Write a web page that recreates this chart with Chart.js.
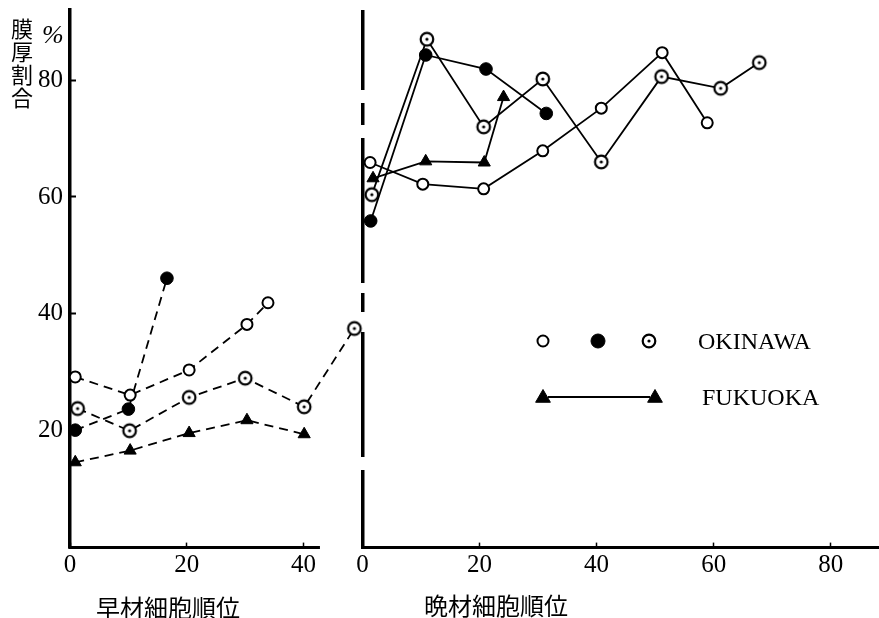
<!DOCTYPE html>
<html>
<head>
<meta charset="utf-8">
<script src="https://cdn.jsdelivr.net/npm/chart.js@4.4.1/dist/chart.umd.min.js"></script>
<style>
  html, body { margin: 0; padding: 0; background: #fff; }
  #wrap { position: relative; width: 879px; height: 618px; overflow: hidden; }
  canvas { position: absolute; top: 0; }
  #earlyChart { left: 0; }
  #lateChart { left: 340px; }
  .txt { position: absolute; color: #000; white-space: nowrap; }
  .jp { font-family: 'Noto Sans CJK JP', sans-serif; }
  .en { font-family: 'Liberation Serif', serif; }
</style>
</head>
<body>
<div id="wrap">
  <canvas id="earlyChart" width="366" height="618"></canvas>
  <canvas id="lateChart" width="539" height="618"></canvas>
  <div class="txt jp" style="left:11px;top:16px;width:22px;font-size:22px;line-height:23px;text-align:center;">膜<br>厚<br>割<br>合</div>
  <div class="txt en" style="left:42px;top:20px;font-size:26px;line-height:30px;font-style:italic;">%</div>
  <div class="txt jp" style="left:96px;top:592px;font-size:24px;line-height:30px;">早材細胞順位</div>
  <div class="txt jp" style="left:424px;top:590px;font-size:24px;line-height:30px;">晩材細胞順位</div>
  <div class="txt en" style="left:698px;top:326px;font-size:24px;line-height:30px;">OKINAWA</div>
  <div class="txt en" style="left:702px;top:382px;font-size:24px;line-height:30px;">FUKUOKA</div>
</div>
<script>
// 早材 (left panel): [cell order, %]
const earlyOpen   = [[0.9, 29.2], [10.3, 26.1], [20.4, 30.4], [30.3, 38.2], [33.9, 41.9]];
const earlyFilled = [[0.9, 20.1], [10.0, 23.7], [16.6, 46.1]];
const earlyDot    = [[1.3, 23.8], [10.2, 20.0], [20.4, 25.7], [30.0, 29.0], [40.1, 24.1], [48.7, 37.5]];
const earlyTri    = [[0.9, 14.6], [10.3, 16.6], [20.4, 19.6], [30.3, 21.8], [40.1, 19.4]];

// 晩材 (right panel)
const lateOpen   = [[1.3, 65.9], [10.3, 62.2], [20.7, 61.4], [30.8, 67.9], [40.8, 75.2], [51.2, 84.7], [58.9, 72.7]];
const lateFilled = [[1.4, 55.9], [10.8, 84.3], [21.1, 81.9], [31.4, 74.3]];
const lateDot    = [[1.6, 60.4], [11.0, 87.0], [20.7, 72.0], [30.8, 80.2], [40.8, 66.0], [51.1, 80.6], [61.2, 78.6], [67.8, 83.0]];
const lateTri    = [[1.8, 63.2], [10.8, 66.1], [20.8, 65.9], [24.1, 77.1]];

const yTicks = [20, 40, 60, 80];
const earlyXTicks = [0, 20, 40];
const lateXTicks = [0, 20, 40, 60, 80];

const Y_MAX = 92;
const EARLY_X_MAX = 50;
const EARLY_AXIS_END = 42.8;
const LATE_X_MAX = 88.25;
const LATE_AXIS_DASH = [80, 13, 22, 13, 145, 10, 19, 20, 125, 13, 120];

const SERIF = { family: "'Liberation Serif', 'Times New Roman', serif", size: 25 };
Chart.defaults.color = '#000';

// circle with centre dot (◎)
function makeDotCircle(r) {
  const c = document.createElement('canvas');
  c.width = c.height = 2 * r + 6;
  const g = c.getContext('2d');
  const m = c.width / 2;
  g.beginPath(); g.arc(m, m, r, 0, Math.PI * 2);
  g.fillStyle = '#fff'; g.fill();
  g.lineWidth = 2.2; g.strokeStyle = '#000'; g.stroke();
  g.beginPath(); g.arc(m, m, 1.6, 0, Math.PI * 2);
  g.fillStyle = '#000'; g.fill();
  return c;
}
const dotCircle = makeDotCircle(6.3);

const toXY = arr => arr.map(([x, y]) => ({ x, y }));

function series(data, kind, dashed) {
  const base = {
    data: toXY(data),
    borderColor: '#000', borderWidth: 1.8,
    borderDash: dashed ? [9, 6] : [],
    tension: 0, clip: false,
    pointBorderColor: '#000'
  };
  if (kind === 'open') return { ...base, pointStyle: 'circle', pointRadius: 5.5, pointBorderWidth: 2, pointBackgroundColor: '#fff' };
  if (kind === 'filled') return { ...base, pointStyle: 'circle', pointRadius: 6.3, pointBorderWidth: 1, pointBackgroundColor: '#000' };
  if (kind === 'dot') return { ...base, pointStyle: dotCircle, pointRadius: 7, pointBorderWidth: 0 };
  return { ...base, pointStyle: 'triangle', pointRadius: 7, pointBorderWidth: 1, pointBackgroundColor: '#000' };
}

const setTicks = list => scale => { scale.ticks = list.map(v => ({ value: v })); };
// keep chart area where layout.padding puts it
const fixX = s => { s.height = 40; s.paddingLeft = 0; s.paddingRight = 0; };
const fixY = s => { s.width = 70; s.paddingTop = 0; s.paddingBottom = 0; };

// left x axis only runs to ~42.8 although the scale goes on to 50
const xAxisSegment = {
  id: 'xAxisSegment',
  beforeDatasetsDraw(chart) {
    const { ctx, scales: { x, y } } = chart;
    const py = y.getPixelForValue(0);
    ctx.save();
    ctx.strokeStyle = '#000';
    ctx.lineWidth = 3;
    ctx.beginPath();
    ctx.moveTo(x.getPixelForValue(0) - 1.5, py);
    ctx.lineTo(x.getPixelForValue(EARLY_AXIS_END), py);
    ctx.stroke();
    ctx.restore();
  }
};

const legendMarks = {
  id: 'legendMarks',
  afterDraw(chart) {
    const ctx = chart.ctx;
    const mark = (style, radius, x, y, fill, bw) => {
      ctx.save();
      ctx.fillStyle = fill; ctx.strokeStyle = '#000'; ctx.lineWidth = bw;
      Chart.helpers.drawPoint(ctx, { pointStyle: style, radius, borderWidth: bw, rotation: 0 }, x, y);
      ctx.restore();
    };
    mark('circle', 5.5, 203, 341, '#fff', 2);
    mark('circle', 7, 258, 341, '#000', 1);
    mark(dotCircle, 7, 309, 341, '#fff', 0);
    ctx.save();
    ctx.strokeStyle = '#000'; ctx.lineWidth = 2;
    ctx.beginPath(); ctx.moveTo(208, 397); ctx.lineTo(310, 397); ctx.stroke();
    ctx.restore();
    mark('triangle', 8.5, 203, 398, '#000', 1);
    mark('triangle', 8.5, 315, 398, '#000', 1);
  }
};

const commonOpts = {
  responsive: false,
  animation: false,
  events: [],
  plugins: { legend: { display: false }, tooltip: { enabled: false } }
};

new Chart(document.getElementById('earlyChart'), {
  type: 'line',
  data: {
    datasets: [
      series(earlyOpen, 'open', true),
      series(earlyFilled, 'filled', true),
      series(earlyDot, 'dot', true),
      series(earlyTri, 'tri', true)
    ]
  },
  options: {
    ...commonOpts,
    layout: { autoPadding: false, padding: { left: 0, top: 10, right: 4, bottom: 30.4 } },
    scales: {
      x: {
        type: 'linear', min: 0, max: EARLY_X_MAX,
        afterBuildTicks: setTicks(earlyXTicks),
        afterFit: fixX,
        border: { display: false },
        grid: { drawOnChartArea: false, drawTicks: true, tickLength: -5, tickColor: '#000', tickWidth: 1.5 },
        ticks: { font: SERIF, padding: 8, maxRotation: 0, autoSkip: false }
      },
      y: {
        type: 'linear', min: 0, max: Y_MAX,
        afterBuildTicks: setTicks([0, ...yTicks]),
        afterFit: fixY,
        border: { display: true, width: 3.5, color: '#000' },
        grid: { drawOnChartArea: false, drawTicks: true, tickLength: -6, tickColor: '#000', tickWidth: 2 },
        ticks: { font: SERIF, padding: 13, callback: v => yTicks.includes(v) ? v : '' }
      }
    }
  },
  plugins: [xAxisSegment]
});

const isZero = c => c.tick && c.tick.value === 0;

new Chart(document.getElementById('lateChart'), {
  type: 'line',
  data: {
    datasets: [
      series(lateOpen, 'open', false),
      series(lateFilled, 'filled', false),
      series(lateDot, 'dot', false),
      series(lateTri, 'tri', false)
    ]
  },
  options: {
    ...commonOpts,
    layout: { autoPadding: false, padding: { left: 22.5, top: 10, right: 0, bottom: 30.4 } },
    scales: {
      x: {
        type: 'linear', min: 0, max: LATE_X_MAX,
        afterBuildTicks: setTicks(lateXTicks),
        afterFit: fixX,
        border: { display: true, width: 3, color: '#000', dash: c => isZero(c) ? LATE_AXIS_DASH : [] },
        grid: {
          drawOnChartArea: true, drawTicks: true,
          color: c => isZero(c) ? '#000' : 'rgba(0,0,0,0)',
          lineWidth: c => isZero(c) ? 3.5 : 1,
          tickLength: -5, tickColor: '#000', tickWidth: 1.5
        },
        ticks: { font: SERIF, padding: 8, maxRotation: 0, autoSkip: false }
      },
      y: { type: 'linear', min: 0, max: Y_MAX, display: false }
    }
  },
  plugins: [legendMarks]
});
</script>
</body>
</html>
